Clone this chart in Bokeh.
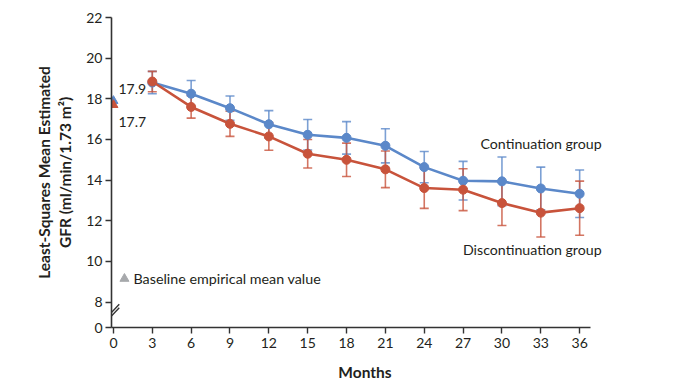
from bokeh.plotting import figure
from bokeh.models import (ColumnDataSource, Whisker, TeeHead, FixedTicker,
                          CustomJSTickFormatter, Range1d, Arrow)
from bokeh.core.properties import value
from bokeh.embed import file_html
from bokeh.resources import INLINE

# ---- data ----
months = [3, 6, 9, 12, 15, 18, 21, 24, 27, 30, 33, 36]
cont_mean = [18.8, 18.25, 17.54, 16.75, 16.23, 16.08, 15.69, 14.64, 13.97, 13.94, 13.59, 13.33]
cont_err = [0.55, 0.65, 0.6, 0.67, 0.75, 0.8, 0.84, 0.77, 0.95, 1.2, 1.05, 1.17]
disc_mean = [18.85, 17.6, 16.77, 16.15, 15.30, 15.0, 14.53, 13.61, 13.53, 12.87, 12.4, 12.62]
disc_err = [0.5, 0.55, 0.62, 0.68, 0.7, 0.82, 0.9, 1.0, 1.03, 1.1, 1.2, 1.33]
baseline_month = [0]
cont_baseline = [17.9]
disc_baseline = [17.7]
x_ticks = list(range(0, 37, 3))
y_ticks = [8, 10, 12, 14, 16, 18, 20, 22]
axis_break_value = 6.75   # bottom of the broken axis, labelled "0"

BLUE = "#5b88c9"
RED = "#c8533b"
FONT = "Lato"
TXT = "#231f20"

p = figure(frame_width=507, frame_height=310, output_backend="svg",
           toolbar_location=None, min_border_left=111, min_border_top=17,
           min_border_right=10, min_border_bottom=40,
           x_range=Range1d(-0.15, 39), y_range=Range1d(axis_break_value, 22))
p.outline_line_color = None
p.grid.visible = False
p.background_fill_color = "white"

# axes
p.xaxis.ticker = FixedTicker(ticks=x_ticks)
p.yaxis.ticker = FixedTicker(ticks=[axis_break_value] + y_ticks)
p.yaxis.formatter = CustomJSTickFormatter(
    args=dict(b=axis_break_value),
    code="return tick == b ? '0' : tick.toFixed(0);")
p.xaxis.bounds = (-0.15, 36.85)
p.yaxis.bounds = (axis_break_value, 22)
for ax in (p.xaxis, p.yaxis):
    ax.axis_line_color = "#333333"
    ax.axis_line_width = 1.6
    ax.major_tick_line_color = "#333333"
    ax.major_tick_line_width = 1.4
    ax.major_tick_out = 6
    ax.major_tick_in = 0
    ax.minor_tick_line_color = None
    ax.major_label_text_font = FONT
    ax.major_label_text_font_size = "14px"
    ax.major_label_text_color = TXT
    ax.axis_label_text_font = FONT
    ax.axis_label_text_font_style = "bold"
    ax.axis_label_text_font_size = "15.5px"
    ax.axis_label_text_color = TXT
p.xaxis.major_label_standoff = 4
p.yaxis.major_label_standoff = 3
p.xaxis.axis_label = "Months"
p.xaxis.axis_label_standoff = 12
p.yaxis.axis_label = "Least-Squares Mean Estimated\nGFR (ml/min/1.73 m\u00b2)"
p.yaxis.axis_label_standoff = 9

# axis break marks
for dy in (0.0, 0.17):
    p.add_layout(Arrow(x_start=-0.45, y_start=7.12 + dy, x_end=0.45, y_end=7.72 + dy,
                       start=None, end=None, line_color="#333333", line_width=1.4))

# error bars
src_c = ColumnDataSource(dict(x=months, y=cont_mean,
                              lo=[m - e for m, e in zip(cont_mean, cont_err)],
                              hi=[m + e for m, e in zip(cont_mean, cont_err)]))
src_d = ColumnDataSource(dict(x=months, y=disc_mean,
                              lo=[m - e for m, e in zip(disc_mean, disc_err)],
                              hi=[m + e for m, e in zip(disc_mean, disc_err)]))
for src, col in ((src_c, BLUE), (src_d, RED)):
    w = Whisker(base="x", upper="hi", lower="lo", source=src,
                line_color=col, line_width=1.6, line_alpha=0.8,
                upper_head=TeeHead(size=9, line_color=col, line_width=1.6, line_alpha=0.8),
                lower_head=TeeHead(size=9, line_color=col, line_width=1.6, line_alpha=0.8))
    p.add_layout(w)

# lines and points
p.line("x", "y", source=src_c, line_color=BLUE, line_width=2.6)
p.scatter("x", "y", source=src_c, size=9, color=BLUE)
p.line("x", "y", source=src_d, line_color=RED, line_width=2.6)
p.scatter("x", "y", source=src_d, size=9, color=RED)

# baseline triangles
p.scatter(baseline_month, cont_baseline, marker="triangle", size=9, color=BLUE)
p.scatter(baseline_month, disc_baseline, marker="triangle", size=9, color=RED)
p.text(baseline_month, cont_baseline, text=[f"{v:.1f}" for v in cont_baseline],
       x_offset=5, y_offset=-12, text_font=value(FONT), text_font_size="14px",
       text_color=TXT, text_baseline="middle", text_align="left")
p.text(baseline_month, disc_baseline, text=[f"{v:.1f}" for v in disc_baseline],
       x_offset=5, y_offset=17, text_font=value(FONT), text_font_size="14px",
       text_color=TXT, text_baseline="middle", text_align="left")

# series labels
p.text([months[-1]], [cont_mean[-1]], text=["Continuation group"],
       x_offset=22, y_offset=-50, text_font=value(FONT), text_font_size="14.2px",
       text_color=TXT, text_align="right", text_baseline="middle")
p.text([months[-1]], [disc_mean[-1]], text=["Discontinuation group"],
       x_offset=22, y_offset=41, text_font=value(FONT), text_font_size="14.2px",
       text_color=TXT, text_align="right", text_baseline="middle")

# baseline key
key_x = [0.85]
key_y = [9.15]
p.scatter(key_x, key_y, marker="triangle", size=9, color="#a7a9ac")
p.text(key_x, key_y, text=["Baseline empirical mean value"], x_offset=9,
       text_font=value(FONT), text_font_size="14.3px", text_color=TXT,
       text_baseline="middle", text_align="left")

open("out.html", "w").write(file_html(p, INLINE))
